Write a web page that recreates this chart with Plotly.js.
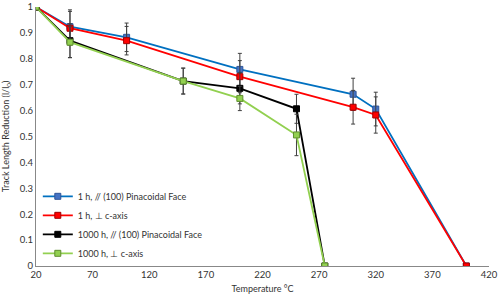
<!DOCTYPE html>
<html>
<head>
<meta charset="utf-8">
<script src="https://cdn.plot.ly/plotly-3.0.1.min.js"></script>
<style>html,body{margin:0;padding:0;background:#fff}#chart{width:500px;height:300px}</style>
</head>
<body>
<div id="chart"></div>
<script>
var seriesNames = ["1 h, // (100) Pinacoidal Face", "1 h, \u22a5 c-axis", "1000 h, // (100) Pinacoidal Face", "1000 h, \u22a5 c-axis"];

var x1hPar = [20, 50, 100, 200, 300, 320, 400];
var y1hPar = [1, 0.924, 0.883, 0.759, 0.663, 0.606, 0];
var e1hPar = [null, 0.065, 0.055, 0.062, 0.062, 0.065, null];

var x1hPerp = [20, 50, 100, 200, 300, 320, 400];
var y1hPerp = [1, 0.918, 0.870, 0.731, 0.613, 0.583, 0];
var e1hPerp = [null, 0.065, 0.055, 0.062, 0.065, 0.07, null];

var x1000hPar = [20, 50, 150, 200, 250, 275];
var y1000hPar = [1, 0.870, 0.714, 0.686, 0.607, 0];
var e1000hPar = [null, 0.065, 0.05, 0.06, 0.056, null];

var x1000hPerp = [20, 50, 150, 200, 250, 275];
var y1000hPerp = [1, 0.864, 0.714, 0.647, 0.506, 0];
var e1000hPerp = [null, 0.06, 0.05, 0.047, 0.08, null];

var lineColors = ["#0070C0", "#FF0000", "#000000", "#92D050"];
var markerFill = ["#4472C4", "#FF0000", "#000000", "#92D050"];
var markerEdge = ["#2F5597", "#A00000", "#000000", "#5E8E2E"];

var xs = [x1hPar, x1hPerp, x1000hPar, x1000hPerp];
var ys = [y1hPar, y1hPerp, y1000hPar, y1000hPerp];
var es = [e1hPar, e1hPerp, e1000hPar, e1000hPerp];

var traces = seriesNames.map(function(n, i){
  return {
    type: "scatter", mode: "lines+markers", name: n,
    x: xs[i], y: ys[i],
    line: {color: lineColors[i], width: 1.8},
    marker: {symbol: "square", size: 6, color: markerFill[i], line: {color: markerEdge[i], width: 1}},
    error_y: {type: "data", array: es[i], visible: true, color: "#404040", thickness: 1, width: 2}
  };
});

var layout = {
  width: 500, height: 300,
  margin: {l: 36, r: 11, t: 7, b: 34},
  paper_bgcolor: "#fff", plot_bgcolor: "#fff",
  font: {family: "Lato, 'Open Sans', sans-serif", size: 9, color: "#333"},
  showlegend: true,
  legend: {x: 0.004, y: 0.325, xanchor: "left", yanchor: "top", bgcolor: "rgba(0,0,0,0)",
           font: {size: 9, color: "#333"}, itemwidth: 30, tracegroupgap: 0},
  xaxis: {
    range: [20, 420], tick0: 20, dtick: 50, showgrid: false, zeroline: false,
    showline: true, linecolor: "#888", linewidth: 1, ticks: "",
    tickfont: {size: 9.5, color: "#333"},
    title: {text: "Temperature \u00b0C", font: {size: 9, color: "#333"}, standoff: 6}
  },
  yaxis: {
    range: [0, 1], dtick: 0.1, showgrid: false, zeroline: false,
    showline: true, linecolor: "#888", linewidth: 1, ticks: "",
    tickfont: {size: 9.5, color: "#333"},
    title: {text: "Track Length Reduction (l/l<sub>0</sub>)", font: {size: 9, color: "#333"}, standoff: 8}
  }
};

Plotly.newPlot("chart", traces, layout, {displayModeBar: false, staticPlot: true});
</script>
</body>
</html>
